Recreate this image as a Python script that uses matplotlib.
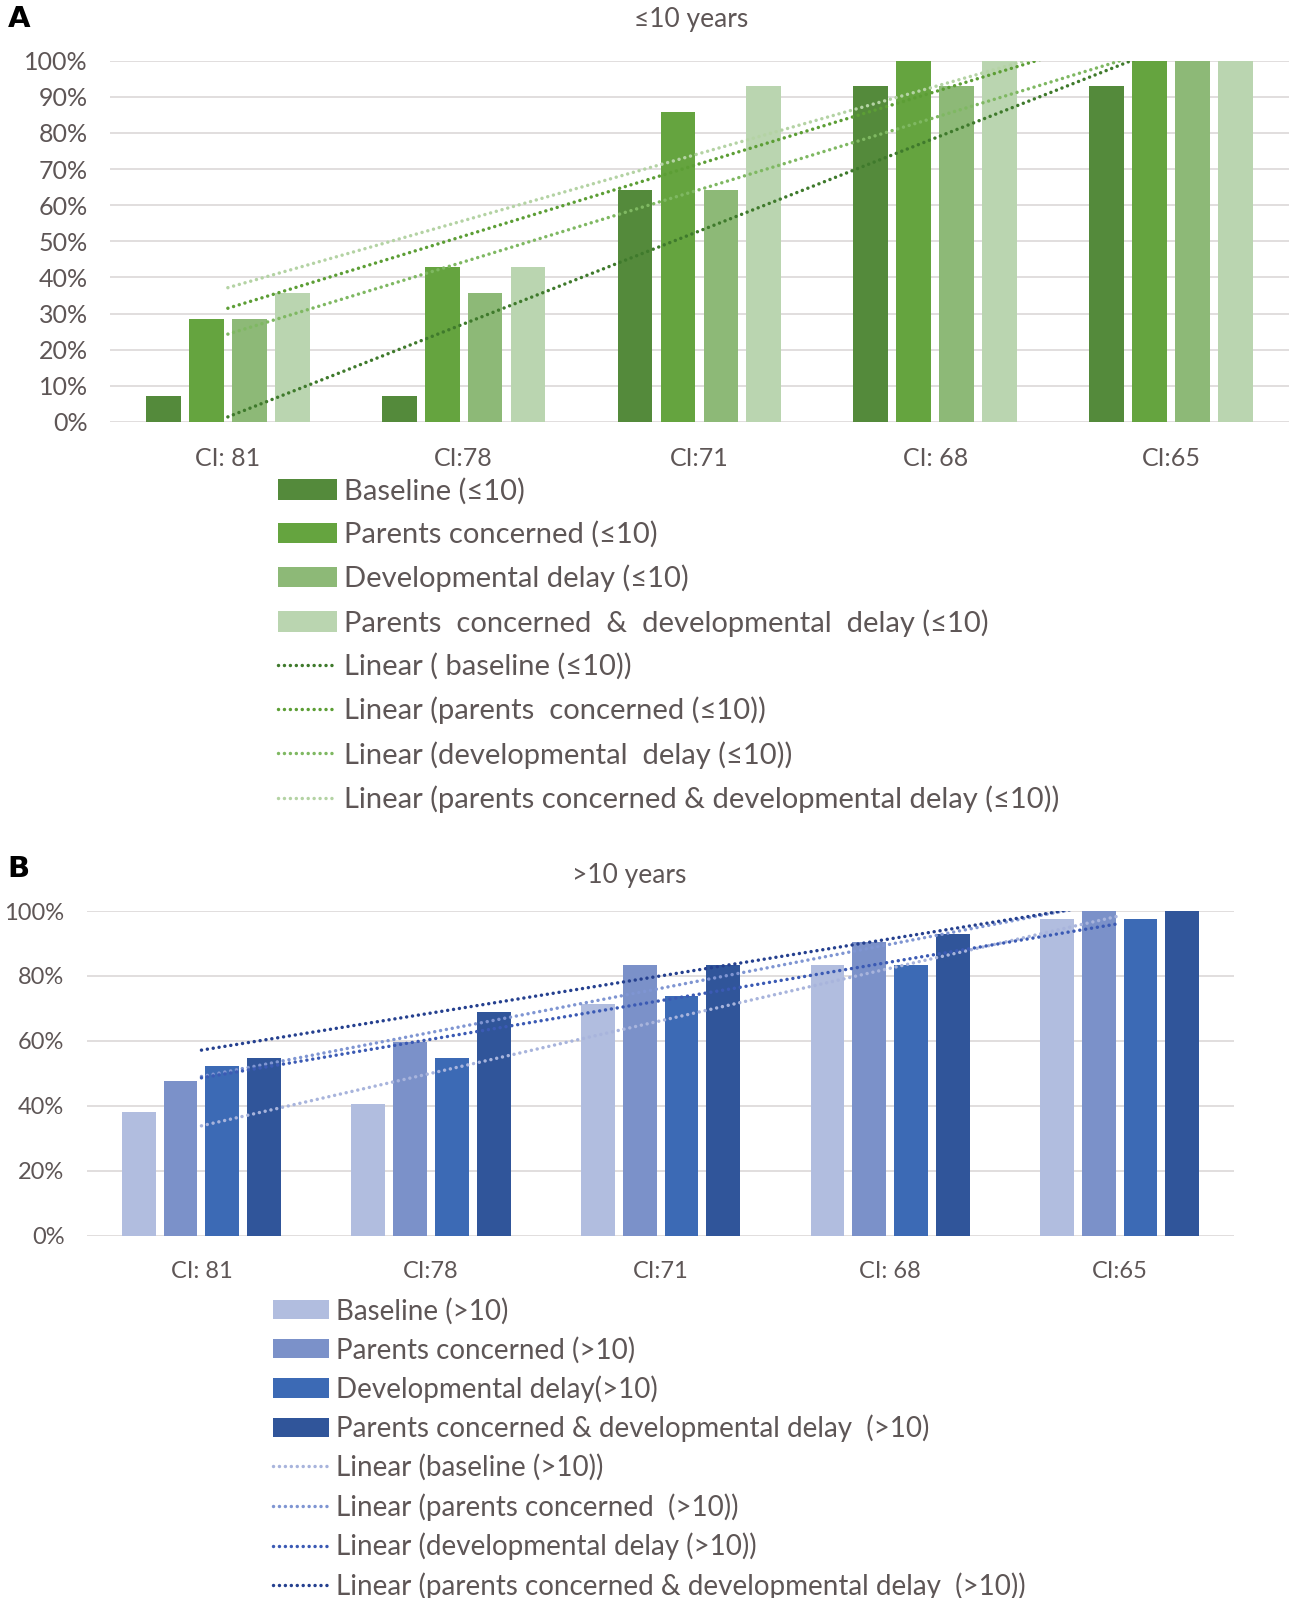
import numpy as np
import matplotlib.pyplot as plt
from matplotlib.ticker import FuncFormatter

plt.rcParams['font.family'] = ['Lato', 'DejaVu Sans']

cats = ['CI: 81', 'CI:78', 'CI:71', 'CI: 68', 'CI:65']

# percentage of children detected, <=10 years
young_baseline = [7.1, 7.1, 64.3, 92.9, 92.9]
young_parents = [28.6, 42.9, 85.7, 100, 100]
young_delay = [28.6, 35.7, 64.3, 92.9, 100]
young_both = [35.7, 42.9, 92.9, 100, 100]

# percentage of children detected, >10 years
old_baseline = [38.1, 40.5, 71.4, 83.3, 97.6]
old_parents = [47.6, 59.5, 83.3, 90.5, 100]
old_delay = [52.4, 54.8, 73.8, 83.3, 97.6]
old_both = [54.8, 69.0, 83.3, 92.9, 100]

young_labels = ['Baseline (≤10)', 'Parents concerned (≤10)', 'Developmental delay (≤10)',
                'Parents  concerned  &  developmental  delay (≤10)']
young_trend_labels = ['Linear ( baseline (≤10))', 'Linear (parents  concerned (≤10))',
                      'Linear (developmental  delay (≤10))',
                      'Linear (parents concerned & developmental delay (≤10))']
old_labels = ['Baseline (>10)', 'Parents concerned (>10)', 'Developmental delay(>10)',
              'Parents concerned & developmental delay  (>10)']
old_trend_labels = ['Linear (baseline (>10))', 'Linear (parents concerned  (>10))',
                    'Linear (developmental delay (>10))',
                    'Linear (parents concerned & developmental delay  (>10))']

green_bars = ['#548a3b', '#65a43f', '#8db977', '#bad5b0']
green_lines = ['#3f7a2c', '#5c9e35', '#7fb862', '#b4d3a4']
blue_bars = ['#b1bddf', '#7b91c9', '#3c6ab5', '#30559a']
blue_lines = ['#a8b4dc', '#7f95d2', '#3b5ab4', '#25408f']

TEXT = '#5e5656'
GRID = '#dcd8d8'
DOTS = (0, (0.01, 1.7))

fig = plt.figure(figsize=(12.94, 15.98), dpi=100)


def draw_panel(ax, series, bar_colors, line_colors, ticks, tickfs):
    x = np.arange(len(cats))
    step, width = 0.182, 0.147
    bars, lines = [], []
    for i, (vals, c) in enumerate(zip(series, bar_colors)):
        b = ax.bar(x + (i - 1.5) * step, vals, width, color=c, zorder=2)
        bars.append(b)
    # linear trend of each series across the five cut-offs
    for vals, c in zip(series, line_colors):
        k, m = np.polyfit(x, vals, 1)
        ln, = ax.plot(x, k * x + m, color=c, lw=2.5, linestyle=DOTS,
                      dash_capstyle='round', zorder=3)
        lines.append(ln)
    ax.set_xlim(-0.5, 4.5)
    ax.set_ylim(0, 100)
    ax.set_yticks(ticks)
    ax.yaxis.set_major_formatter(FuncFormatter(lambda v, p: f'{v:.0f}%'))
    ax.set_xticks(x)
    ax.set_xticklabels(cats)
    ax.grid(axis='y', color=GRID, lw=1.2, zorder=0)
    for s in ax.spines.values():
        s.set_visible(False)
    ax.tick_params(length=0, colors=TEXT, labelsize=tickfs)
    ax.tick_params(axis='y', pad=16)
    ax.tick_params(axis='x', pad=18)
    return bars, lines


# panel A
axA = fig.add_axes([0.085, 0.736, 0.911, 0.226])
barsA, linesA = draw_panel(axA, [young_baseline, young_parents, young_delay, young_both],
                           green_bars, green_lines, np.arange(0, 101, 10), 18)
fig.text(0.534, 0.988, '≤10 years', ha='center', va='center', fontsize=19, color=TEXT)
fig.text(0.006, 0.988, 'A', ha='left', va='center', fontsize=21, fontweight='bold',
         family='DejaVu Sans', color='black')
fig.legend(barsA + linesA, young_labels + young_trend_labels, loc='upper left',
           bbox_to_anchor=(0.215, 0.701), frameon=False, fontsize=21,
           handlelength=2.0, handleheight=0.7, labelspacing=0.57, handletextpad=0.25,
           borderpad=0, borderaxespad=0, labelcolor=TEXT)

# panel B
axB = fig.add_axes([0.067, 0.2268, 0.887, 0.2031])
barsB, linesB = draw_panel(axB, [old_baseline, old_parents, old_delay, old_both],
                           blue_bars, blue_lines, np.arange(0, 101, 20), 17)
fig.text(0.486, 0.452, '>10 years', ha='center', va='center', fontsize=19, color=TEXT)
fig.text(0.006, 0.456, 'B', ha='left', va='center', fontsize=21, fontweight='bold',
         family='DejaVu Sans', color='black')
fig.legend(barsB + linesB, old_labels + old_trend_labels, loc='upper left',
           bbox_to_anchor=(0.211, 0.188), frameon=False, fontsize=20,
           handlelength=2.0, handleheight=0.7, labelspacing=0.43, handletextpad=0.25,
           borderpad=0, borderaxespad=0, labelcolor=TEXT)

fig.savefig('out.png', dpi=100)
